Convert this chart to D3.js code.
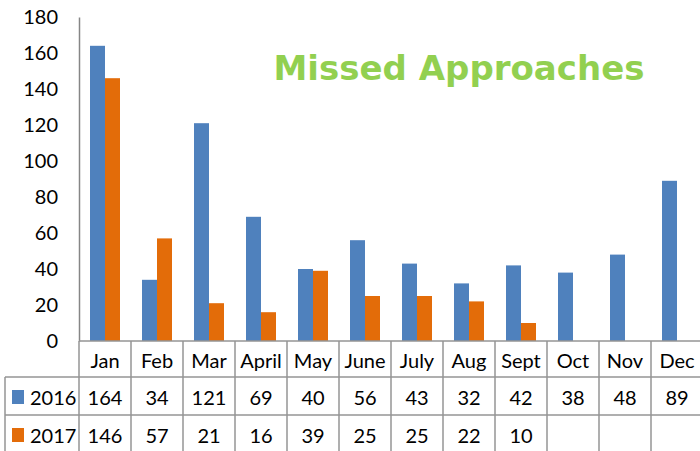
<!DOCTYPE html>
<html>
<head>
<meta charset="utf-8">
<script src="https://cdn.jsdelivr.net/npm/d3@7"></script>
<style>
  body { margin: 0; background: #fff; }
  text { font-family: Lato, "Open Sans", sans-serif; fill: #000; }
</style>
</head>
<body>
<script>
var months = ['Jan', 'Feb', 'Mar', 'April', 'May', 'June', 'July', 'Aug', 'Sept', 'Oct', 'Nov', 'Dec'];
var years = ['2016', '2017'];
var values2016 = [164, 34, 121, 69, 40, 56, 43, 32, 42, 38, 48, 89];
var values2017 = [146, 57, 21, 16, 39, 25, 25, 22, 10, null, null, null];
var yTicks = [0, 20, 40, 60, 80, 100, 120, 140, 160, 180];
var colors = ['#4f81bd', '#e36c09'];

var series = [values2016, values2017];

var svg = d3.select('body').append('svg')
                .attr('width', 700)
                .attr('height', 451);

var x = d3.scaleBand().domain(months).range([79, 703]);
var xInner = d3.scaleBand().domain(years).range([11, 41]);
var y = d3.scaleLinear().domain([0, 180]).range([341, 17]);

// bars
years.forEach(function(yr, k){
    svg.append('g').selectAll('rect')
        .data(series[k].map(function(v, i){ return {m: months[i], v: v}; }).filter(function(d){ return d.v != null; }))
        .enter().append('rect')
        .attr('x', function(d){ return x(d.m) + xInner(yr); })
        .attr('y', function(d){ return y(d.v); })
        .attr('width', xInner.bandwidth())
        .attr('height', function(d){ return y(0) - y(d.v); })
        .attr('fill', colors[k]);
});

// y axis
var yAxis = svg.append('g')
        .attr('transform', 'translate(79,0)')
        .call(d3.axisLeft(y).tickValues(yTicks).tickSize(0).tickPadding(21));
yAxis.select('.domain').attr('stroke', '#868686').attr('stroke-width', 1.5);
yAxis.selectAll('text').style('font-size', '20px').attr('fill', '#000');

// data table
var lineColor = '#959595';
var rowTop = [341, 377, 415];
var tableEnd = 703;
var g = svg.append('g').attr('stroke', lineColor).attr('stroke-width', 1.5);
g.append('line').attr('x1', 79).attr('x2', tableEnd).attr('y1', rowTop[0]).attr('y2', rowTop[0]);
g.append('line').attr('x1', 5).attr('x2', tableEnd).attr('y1', rowTop[1]).attr('y2', rowTop[1]);
g.append('line').attr('x1', 5).attr('x2', tableEnd).attr('y1', rowTop[2]).attr('y2', rowTop[2]);
g.append('line').attr('x1', 5).attr('x2', 5).attr('y1', rowTop[1]).attr('y2', 451);
g.selectAll('line.col')
    .data(months.concat(['end']))
    .enter().append('line')
    .attr('x1', function(d, i){ return 79 + i * x.step(); })
    .attr('x2', function(d, i){ return 79 + i * x.step(); })
    .attr('y1', rowTop[0])
    .attr('y2', 451);

svg.append('g').selectAll('text')
    .data(months)
    .enter().append('text')
    .attr('x', function(d){ return x(d) + x.bandwidth() / 2; })
    .attr('y', 360)
    .attr('text-anchor', 'middle')
    .attr('dominant-baseline', 'central')
    .style('font-size', '20px')
    .text(function(d){ return d; });

years.forEach(function(yr, k){
    var cy = k == 0 ? 397 : 435;
    svg.append('rect')
        .attr('x', 12).attr('y', cy - 7)
        .attr('width', 12).attr('height', 14)
        .attr('fill', colors[k]);
    svg.append('text')
        .attr('x', 30).attr('y', cy)
        .attr('dominant-baseline', 'central')
        .style('font-size', '20px')
        .text(yr);
    svg.append('g').selectAll('text')
        .data(series[k].map(function(v, i){ return {m: months[i], v: v}; }).filter(function(d){ return d.v != null; }))
        .enter().append('text')
        .attr('x', function(d){ return x(d.m) + x.bandwidth() / 2; })
        .attr('y', cy)
        .attr('text-anchor', 'middle')
        .attr('dominant-baseline', 'central')
        .style('font-size', '20px')
        .text(function(d){ return d.v; });
});

// title
svg.append('text')
    .attr('x', 459)
    .attr('y', 80)
    .attr('text-anchor', 'middle')
    .style('font-family', '"DejaVu Sans", sans-serif')
    .style('font-weight', 'bold')
    .style('font-size', '34px')
    .style('fill', '#92d050')
    .text('Missed Approaches');
</script>
</body>
</html>
